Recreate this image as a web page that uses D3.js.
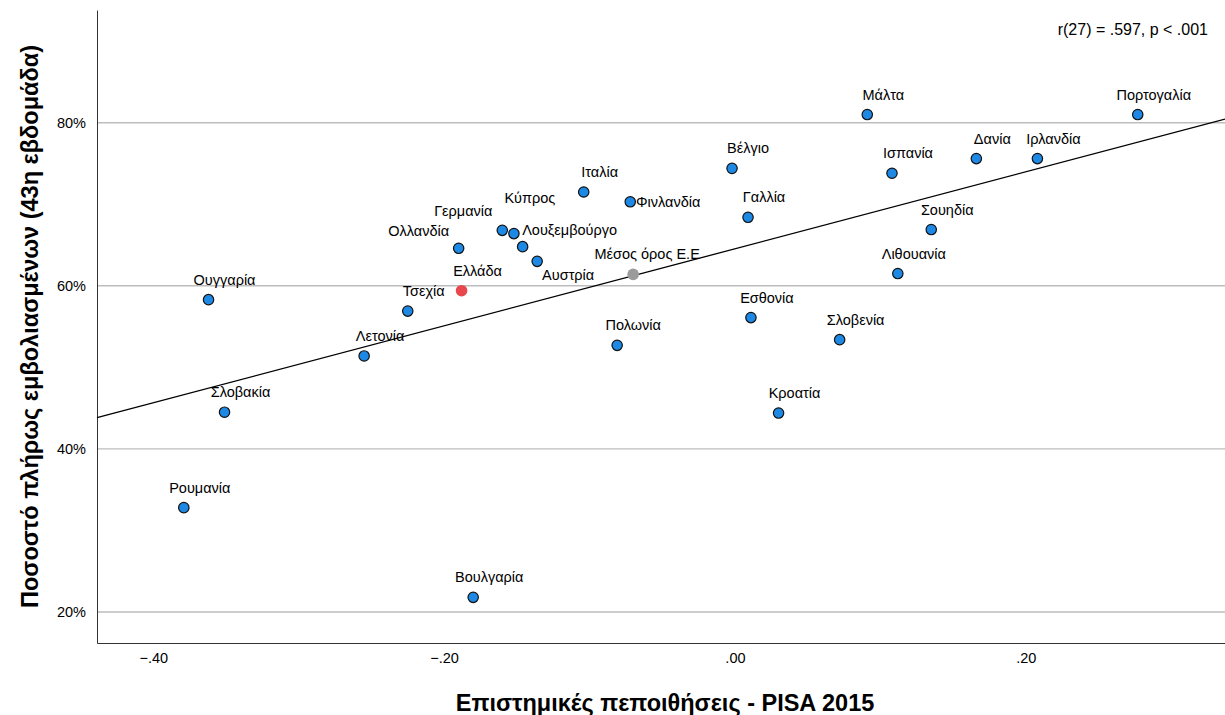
<!DOCTYPE html>
<html>
<head>
<meta charset="utf-8">
<script src="https://cdnjs.cloudflare.com/ajax/libs/d3/7.8.5/d3.min.js"></script>
<style>
  body { margin: 0; background: #fff; }
  svg { font-family: "Liberation Sans", Arial, sans-serif; }
  .tick text { font-size: 14.5px; fill: #000; }
  .lbl { font-size: 14.5px; fill: #000; }
</style>
</head>
<body>
<svg id="chart"></svg>
<script>
const countries = [
  "Μάλτα", "Πορτογαλία", "Βέλγιο", "Ισπανία", "Δανία", "Ιρλανδία", "Γαλλία",
  "Σουηδία", "Λιθουανία", "Εσθονία", "Σλοβενία", "Κροατία", "Ιταλία", "Φινλανδία",
  "Γερμανία", "Κύπρος", "Λουξεμβούργο", "Ολλανδία", "Αυστρία", "Μέσος όρος Ε.Ε",
  "Ελλάδα", "Τσεχία", "Πολωνία", "Ουγγαρία", "Λετονία", "Σλοβακία", "Ρουμανία",
  "Βουλγαρία"
];
// epistemic beliefs index (PISA 2015)
const pisa = [
  0.091, 0.277, -0.002, 0.108, 0.166, 0.208, 0.009,
  0.135, 0.112, 0.011, 0.072, 0.030, -0.104, -0.072,
  -0.160, -0.152, -0.146, -0.190, -0.136, -0.070,
  -0.188, -0.225, -0.081, -0.362, -0.255, -0.351, -0.379,
  -0.180
];
// fully vaccinated, % (week 43)
const vaccinated = [
  81.0, 81.0, 74.4, 73.8, 75.6, 75.6, 68.4,
  66.9, 61.5, 56.1, 53.4, 44.4, 71.5, 70.3,
  66.8, 66.4, 64.8, 64.6, 63.0, 61.4,
  59.4, 56.9, 52.7, 58.3, 51.4, 44.5, 32.8,
  21.8
];
const xTicks = [-0.4, -0.2, 0, 0.2];
const yTicks = [20, 40, 60, 80];
// fit line
const fitIntercept = 64.54;
const fitSlope = 47.2;
const statText = "r(27) = .597, p < .001";

// label placement (center offset from the dot), default is above-right
const labelNudge = {
  "Φινλανδία": [38, 0],
  "Γερμανία": [-39, -19],
  "Κύπρος": [16, -36],
  "Λουξεμβούργο": [47, -17],
  "Ολλανδία": [-40, -17],
  "Αυστρία": [31, 14],
  "Μέσος όρος Ε.Ε": [14, -20]
};

const W = 1225, H = 715;
const plotL = 97, plotT = 10, plotR = 1225, plotB = 643;

const svg = d3.select("#chart").attr("width", W).attr("height", H);

const x = d3.scaleLinear().domain([-0.4387, 0.3370]).range([plotL, plotR]);
const y = d3.scaleLinear().domain([16.2, 93.82]).range([plotB, plotT]);

const points = countries.map((c, i) => ({ name: c, x: pisa[i], y: vaccinated[i] }));

// grid
svg.append("g").selectAll("line").data(yTicks).enter().append("line")
  .attr("x1", plotL).attr("x2", plotR)
  .attr("y1", d => y(d)).attr("y2", d => y(d))
  .attr("stroke", "#bdbdbd").attr("stroke-width", 1.4);

// axes
const fmtX = d => d3.format(".2f")(d).replace("0.", ".");
svg.append("g")
  .attr("transform", `translate(0,${plotB})`)
  .call(d3.axisBottom(x).tickValues(xTicks).tickFormat(fmtX).tickSize(0).tickSizeOuter(0).tickPadding(10))
  .call(g => g.select(".domain").attr("stroke", "#333"));

svg.append("g")
  .attr("transform", `translate(${plotL},0)`)
  .call(d3.axisLeft(y).tickValues(yTicks).tickFormat(d => d + "%").tickSize(0).tickSizeOuter(0).tickPadding(11))
  .call(g => g.select(".domain").attr("stroke", "#333"));

svg.selectAll(".tick text").attr("font-family", "Liberation Sans, Arial, sans-serif");

// regression line
const [x0, x1] = x.domain();
svg.append("line")
  .attr("x1", x(x0)).attr("y1", y(fitIntercept + fitSlope * x0))
  .attr("x2", x(x1)).attr("y2", y(fitIntercept + fitSlope * x1))
  .attr("stroke", "#000").attr("stroke-width", 1.3);

// points
const special = d => d.name === "Ελλάδα" || d.name === "Μέσος όρος Ε.Ε";
const fillFor = d => d.name === "Ελλάδα" ? "#e8484d" : d.name === "Μέσος όρος Ε.Ε" ? "#9b9b9b" : "#1e88e5";
svg.append("g").selectAll("circle").data(points).enter().append("circle")
  .attr("cx", d => x(d.x))
  .attr("cy", d => y(d.y))
  .attr("r", d => special(d) ? 5.8 : 5.2)
  .attr("fill", fillFor)
  .attr("stroke", d => special(d) ? "none" : "#111")
  .attr("stroke-width", 1.2);

// labels
svg.append("g").selectAll("text").data(points).enter().append("text")
  .attr("class", "lbl")
  .attr("x", d => x(d.x) + (labelNudge[d.name] || [16, -20])[0])
  .attr("y", d => y(d.y) + (labelNudge[d.name] || [16, -20])[1])
  .attr("dy", "0.35em")
  .attr("text-anchor", "middle")
  .text(d => d.name);

// stat annotation
svg.append("text")
  .attr("x", 1208).attr("y", 29).attr("dy", "0.35em")
  .attr("text-anchor", "end")
  .attr("font-size", 16)
  .text(statText);

// axis titles
svg.append("text")
  .attr("x", (plotL + plotR) / 2 + 4).attr("y", 703).attr("dy", "0.35em")
  .attr("text-anchor", "middle")
  .attr("font-size", 23.5).attr("font-weight", "bold")
  .text("Επιστημικές πεποιθήσεις - PISA 2015");

svg.append("text")
  .attr("transform", `translate(30,${(plotT + plotB) / 2}) rotate(-90)`)
  .attr("dy", "0.35em")
  .attr("text-anchor", "middle")
  .attr("font-size", 23.5).attr("font-weight", "bold")
  .text("Ποσοστό πλήρως εμβολιασμένων (43η εβδομάδα)");
</script>
</body>
</html>
